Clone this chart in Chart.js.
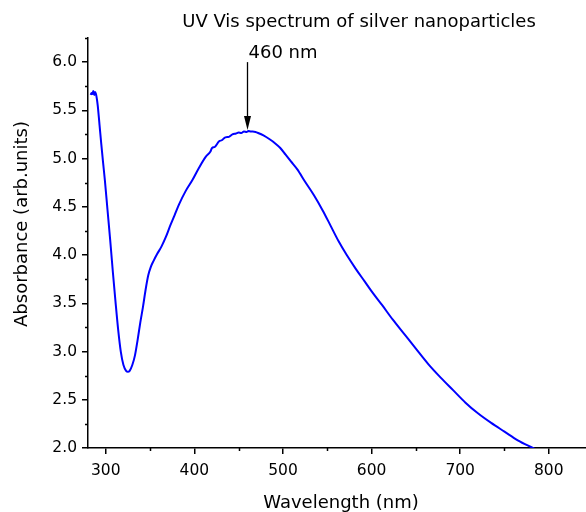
<!DOCTYPE html>
<html>
<head>
<meta charset="utf-8">
<script src="https://cdn.jsdelivr.net/npm/chart.js@4"></script>
<style>
  body { margin: 0; background: #fff; }
  #wrap { width: 586px; height: 512px; }
</style>
</head>
<body>
<div id="wrap"><canvas id="grafico"></canvas></div>
<script>
// dados
const wavelength = [283, 284, 285, 286, 287, 288, 289, 290, 291, 293, 295, 297, 299, 302, 305, 308, 311, 314, 317, 320,
  323, 325, 327, 330, 333, 336, 339, 342, 345, 348, 351, 354, 358, 363, 368, 373, 378, 383, 390, 398,
  405, 413, 418, 420, 423, 428, 431, 435, 439, 443, 447, 450, 453, 456, 459, 461, 464, 466, 469, 472,
  478, 485, 491, 497, 503, 509, 516, 525, 535, 545, 554, 563, 572, 582, 592, 602, 612, 624, 637, 650,
  664, 678, 692, 706, 720, 735, 750, 765, 782, 795];
const absorbance = [5.66, 5.68, 5.67, 5.70, 5.66, 5.69, 5.67, 5.62, 5.55, 5.35, 5.15, 4.96, 4.78, 4.47, 4.16, 3.83, 3.52, 3.23, 3.00, 2.86,
  2.80, 2.79, 2.80, 2.86, 2.96, 3.12, 3.30, 3.46, 3.64, 3.79, 3.88, 3.94, 4.01, 4.09, 4.19, 4.31, 4.42, 4.53, 4.66, 4.78,
  4.90, 5.02, 5.07, 5.11, 5.12, 5.18, 5.19, 5.22, 5.225, 5.25, 5.26, 5.27, 5.265, 5.28, 5.275, 5.285, 5.28, 5.28, 5.275, 5.265,
  5.24, 5.20, 5.16, 5.11, 5.04, 4.97, 4.89, 4.76, 4.62, 4.46, 4.30, 4.14, 4.00, 3.86, 3.73, 3.60, 3.48, 3.33, 3.18, 3.03,
  2.87, 2.73, 2.60, 2.47, 2.36, 2.26, 2.17, 2.08, 2.00, 1.94];

const xTicks = [300, 400, 500, 600, 700, 800];
const xMinor = [350, 450, 550, 650, 750];
const yTicks = [2.0, 2.5, 3.0, 3.5, 4.0, 4.5, 5.0, 5.5, 6.0];
const yMinor = [2.25, 2.75, 3.25, 3.75, 4.25, 4.75, 5.25, 5.75, 6.25];

const titulo = 'UV Vis spectrum of silver nanoparticles';
const picoX = 460;
const picoY = 5.285;
const picoTexto = '460 nm';

const fonte = '"DejaVu Sans"';
Chart.defaults.font.family = fonte;
Chart.defaults.color = '#000';

// marcas menores, título, seta do pico e títulos dos eixos
const extras = {
  id: 'extras',
  afterDraw(chart) {
    const { ctx, scales: { x, y } } = chart;
    ctx.save();
    ctx.strokeStyle = '#000';
    ctx.lineWidth = 1.5;
    ctx.beginPath();
    xMinor.forEach(v => {
      const px = Math.round(x.getPixelForValue(v)) + 0.5;
      ctx.moveTo(px, y.bottom);
      ctx.lineTo(px, y.bottom + 3);
    });
    yMinor.forEach(v => {
      const py = Math.round(y.getPixelForValue(v)) + 0.5;
      ctx.moveTo(x.left, py);
      ctx.lineTo(x.left - 3, py);
    });
    ctx.stroke();

    ctx.fillStyle = '#000';
    ctx.font = '18px ' + fonte;
    ctx.textAlign = 'center';
    ctx.textBaseline = 'alphabetic';
    ctx.fillText(titulo, 359, 27);

    // seta
    const ax = x.getPixelForValue(picoX);
    const topo = y.getPixelForValue(6.0);
    const ponta = y.getPixelForValue(picoY) - 1;
    ctx.textAlign = 'left';
    ctx.fillText(picoTexto, ax + 1, 58);
    ctx.lineWidth = 1.3;
    ctx.beginPath();
    ctx.moveTo(ax, topo);
    ctx.lineTo(ax, ponta - 12);
    ctx.stroke();
    ctx.beginPath();
    ctx.moveTo(ax - 3.5, ponta - 14);
    ctx.lineTo(ax + 3.5, ponta - 14);
    ctx.lineTo(ax, ponta);
    ctx.closePath();
    ctx.fill();

    // títulos dos eixos
    ctx.textAlign = 'center';
    ctx.fillText('Wavelength (nm)', 341, 508);
    ctx.translate(22, 224);
    ctx.rotate(-Math.PI / 2);
    ctx.textBaseline = 'middle';
    ctx.fillText('Absorbance (arb.units)', 0, 0);
    ctx.restore();
  }
};

const ctx = document.getElementById('grafico');
const myChart = new Chart(ctx, {
  type: 'line',
  data: {
    datasets: [{
      label: 'Ag NPs',
      data: wavelength.map((w, i) => ({ x: w, y: absorbance[i] })),
      borderColor: 'rgba(0, 0, 255, 1)', // azul
      borderWidth: 2,
      pointRadius: 0,
      cubicInterpolationMode: 'monotone',
      fill: false
    }]
  },
  options: {
    responsive: true,
    maintainAspectRatio: false,
    animation: false,
    layout: { padding: { top: 38, left: 0, right: 0, bottom: 0 } },
    scales: {
      x: {
        type: 'linear',
        min: 280,
        max: 842,
        afterBuildTicks: s => { s.ticks = xTicks.map(v => ({ value: v })); },
        afterFit: s => { s.height = 64; },
        grid: { drawOnChartArea: false, tickLength: 6, color: '#000', lineWidth: 1.5 },
        border: { color: '#000', width: 1.5 },
        ticks: { font: { size: 15.5 }, color: '#000', padding: 8, maxRotation: 0, autoSkip: false }
      },
      y: {
        type: 'linear',
        min: 2.0,
        max: 6.25,
        afterBuildTicks: s => { s.ticks = yTicks.map(v => ({ value: v })); },
        afterFit: s => { s.width = 88; },
        grid: { drawOnChartArea: false, tickLength: 6, color: '#000', lineWidth: 1.5 },
        border: { color: '#000', width: 1.5 },
        ticks: { font: { size: 15.5 }, color: '#000', padding: 5, autoSkip: false, callback: v => v.toFixed(1) }
      }
    },
    plugins: {
      legend: { display: false },
      tooltip: { enabled: false }
    }
  },
  plugins: [extras]
});
</script>
</body>
</html>
